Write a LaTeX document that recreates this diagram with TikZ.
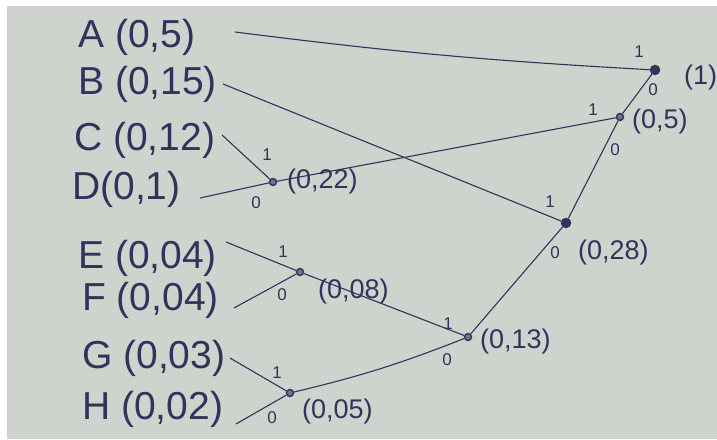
\documentclass[tikz,border=0pt]{standalone}
\usepackage{fontspec}
\setmainfont{Liberation Sans}
\usetikzlibrary{positioning}
\definecolor{paper}{RGB}{206,211,205}
\definecolor{ink}{RGB}{48,52,92}

\begin{document}
\begin{tikzpicture}[x=1pt, y=-1pt,
 leaf/.style={anchor=west, inner sep=0pt, text=ink, font=\fontsize{39}{41}\selectfont},
 wt/.style={anchor=west, inner sep=0pt, text=ink, font=\fontsize{27}{29}\selectfont},
 bit/.style={inner sep=0pt, text=ink, font=\fontsize{17}{19}\selectfont},
 dot/.style={circle, draw=ink, fill=ink!60!paper, line width=1.4pt, minimum size=7pt, inner sep=0pt},
 bigdot/.style={dot, fill=ink, minimum size=9pt},
 edge/.style={draw=ink, line width=1.1pt}]
\useasboundingbox (0,0) rectangle (717,439);
\fill[white] (0,0) rectangle (717,439);
\fill[paper] (7,6) rectangle (717,439);
% symbols with their weights
\node[leaf] (A) at (78,37) {A (0,5)};
\node[leaf] (B) at (78,84) {B (0,15)};
\node[leaf] (C) at (74,140) {C (0,12)};
\node[leaf] (D) at (72,189) {D(0,1)};
\node[leaf] (E) at (78,258) {E (0,04)};
\node[leaf] (F) at (82,300) {F (0,04)};
\node[leaf] (G) at (82,358) {G (0,03)};
\node[leaf] (H) at (82,409) {H (0,02)};
% free ends of the leaf lines
\coordinate (a) at (235,32);
\coordinate (b) at (223,84);
\coordinate (c) at (222,135);
\coordinate (d) at (200,198);
\coordinate (e) at (226,242);
\coordinate (f) at (234,308);
\coordinate (g) at (230,358);
\coordinate (h) at (236,424);
% inner nodes
\node[bigdot] (root) at (655,70) {};
\node[dot] (n05) at (620,117) {};
\node[bigdot] (n028) at (566,223) {};
\node[dot] (n022) at (273,182) {};
\node[dot] (n013) at (468,337) {};
\node[dot] (n008) at (300,272) {};
\node[dot] (n005) at (290,393) {};
% connectors
\draw[edge] (a) to[bend right=2] (root);
\draw[edge] (b) -- (n028);
\draw[edge] (c) -- (n022);
\draw[edge] (d) -- (n022);
\draw[edge] (e) -- (n008);
\draw[edge] (f) -- (n008);
\draw[edge] (g) -- (n005);
\draw[edge] (h) -- (n005);
\draw[edge] (n022) -- (n05);
\draw[edge] (n008) -- (n013);
\draw[edge] (n005) to[bend right=4] (n013);
\draw[edge] (n013) -- (n028);
\draw[edge] (n028) -- (n05);
\draw[edge] (n05) -- (root);
% weights of the inner nodes
\node[wt] (w1) at (684,78) {(1)};
\node[wt] (w05) at (632,122) {(0,5)};
\node[wt] (w028) at (578,253) {(0,28)};
\node[wt] (w022) at (287,182) {(0,22)};
\node[wt] (w013) at (480,342) {(0,13)};
\node[wt] (w008) at (318,292) {(0,08)};
\node[wt] (w005) at (302,412) {(0,05)};
% bits
\node[bit] at (639,52) {1};
\node[bit] at (653,90) {0};
\node[bit] at (593,110) {1};
\node[bit] at (615,150) {0};
\node[bit] at (550,202) {1};
\node[bit] at (555,253) {0};
\node[bit] at (267,155) {1};
\node[bit] at (256,203) {0};
\node[bit] at (448,324) {1};
\node[bit] at (447,360) {0};
\node[bit] at (283,252) {1};
\node[bit] at (282,295) {0};
\node[bit] at (277,373) {1};
\node[bit] at (272,418) {0};
\end{tikzpicture}
\end{document}
